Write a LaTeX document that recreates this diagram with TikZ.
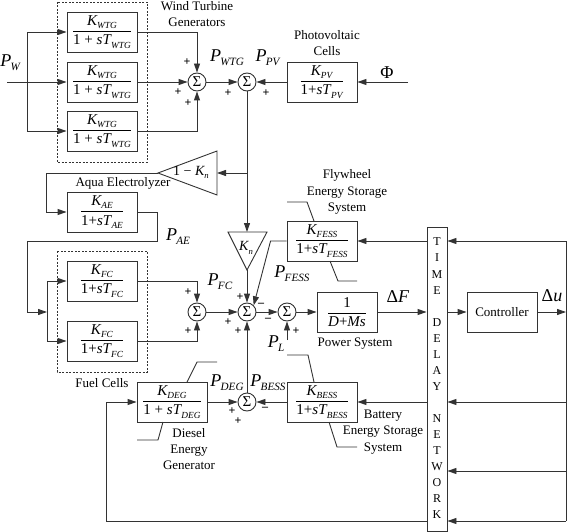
\documentclass[tikz,border=0pt]{standalone}
\usepackage{amsmath}
\usepackage{fontspec}
\setmainfont{Liberation Serif}
\usetikzlibrary{arrows.meta}

\newcommand\vsub[2]{\textit{#1}\kern-0.04em\raisebox{-0.5ex}{\scalebox{0.62}{\textit{#2}}}}
\newcommand\blkfr[2]{$\dfrac{\text{#1}}{\text{#2}}$}

\tikzset{
  blk/.style={draw, minimum width=70pt, minimum height=40pt, inner sep=0pt, font=\fontsize{15}{17}\selectfont},
  sumn/.style={draw, circle, minimum size=18pt, inner sep=0pt, font=\fontsize{15}{15}\selectfont},
  arr/.style={-{Triangle[length=9pt,width=6pt]}},
  sgn/.style={font=\fontsize{12}{12}\selectfont\bfseries, inner sep=0pt},
  txt/.style={font=\fontsize{13}{16.2}\selectfont, align=center, inner sep=0pt},
  sig/.style={font=\fontsize{18}{18}\selectfont, inner sep=0pt},
  grp/.style={line width=0.6pt, dash pattern=on 2pt off 1.5pt}
}

\begin{document}
\begin{tikzpicture}[x=1pt,y=-1pt,line width=0.9pt,draw=black!80]
\useasboundingbox (0,0) rectangle (567,532);

\draw[grp] (57,2) rectangle (147,162);
\draw[grp] (57,251) rectangle (147,372);

\node[blk] (wtga) at (102,32) {\blkfr{\vsub{K}{WTG}}{1 + \textit{s}\vsub{T}{WTG}}};
\node[blk] (wtgb) at (102,82) {\blkfr{\vsub{K}{WTG}}{1 + \textit{s}\vsub{T}{WTG}}};
\node[blk] (wtgc) at (102,131) {\blkfr{\vsub{K}{WTG}}{1 + \textit{s}\vsub{T}{WTG}}};
\node[sumn] (sumw) at (197,82) {Σ};
\node[sumn] (sumr) at (247,82) {Σ};
\node[blk] (pv) at (322,82) {\blkfr{\vsub{K}{PV}}{1+\textit{s}\vsub{T}{PV}}};
\node[blk] (ae) at (102,212) {\blkfr{\vsub{K}{AE}}{1+\textit{s}\vsub{T}{AE}}};
\node[blk] (fca) at (102,281) {\blkfr{\vsub{K}{FC}}{1+\textit{s}\vsub{T}{FC}}};
\node[blk] (fcb) at (102,341) {\blkfr{\vsub{K}{FC}}{1+\textit{s}\vsub{T}{FC}}};
\node[sumn] (sumf) at (197,312) {Σ};
\node[sumn] (sumc) at (247,312) {Σ};
\node[sumn] (suml) at (287,312) {Σ};
\node[blk, minimum width=60pt] (ps) at (347,312) {\blkfr{1}{\textit{D}+\textit{Ms}}};
\node[blk] (fess) at (322,241) {\blkfr{\vsub{K}{FESS}}{1+\textit{s}\vsub{T}{FESS}}};
\node[blk] (bess) at (322,402) {\blkfr{\vsub{K}{BESS}}{1+\textit{s}\vsub{T}{BESS}}};
\node[blk] (deg) at (172,402) {\blkfr{\vsub{K}{DEG}}{1 + \textit{s}\vsub{T}{DEG}}};
\node[sumn] (sumd) at (247,402) {Σ};
\node[draw, minimum width=20pt, minimum height=304pt, inner sep=0pt] (tdn) at (437,379) {};
\node[blk, font=\fontsize{13}{15}\selectfont] (ctrl) at (502,312) {Controller};

\draw (158,173) -- (217,151) -- (217,195) -- cycle;
\coordinate (gai) at (217,173);
\coordinate (gao) at (158,173);
\node[font=\fontsize{14}{14}\selectfont] at (191,172) {1 − \vsub{K}{n}};
\draw (228,232) -- (267,232) -- (247,270) -- cycle;
\coordinate (kni) at (247,232);
\coordinate (kno) at (247,270);
\node[font=\fontsize{14}{14}\selectfont] at (246,248) {\vsub{K}{n}};

\foreach \l [count=\i from 0] in {T,I,M,E,,D,E,L,A,Y,,N,E,T,W,O,R,K}
  \node[font=\fontsize{12}{12}\selectfont] at (437,{242+16.06*\i}) {\l};

\coordinate (pwin) at (7,82);
\coordinate (pws) at (27,82);
\coordinate (phin) at (408,82);
\coordinate (brk) at (247,173);
\coordinate (aeo) at (157,241);
\coordinate (fcs) at (47,312);
\coordinate (plin) at (287,340);
\coordinate (duo) at (566,312);
\foreach \y [count=\i] in {241,402,471,521}
  \coordinate (fb\i) at (566,\y);

\draw[arr] (pwin) -- (wtgb);
\draw[arr] (pws) |- (wtga);
\draw[arr] (pws) |- (wtgc);
\draw[arr] (wtga) -| (sumw);
\draw[arr] (wtgb) -- (sumw);
\draw[arr] (wtgc) -| (sumw);
\draw[arr] (sumw) -- (sumr);
\draw[arr] (phin) -- (pv);
\draw[arr] (pv) -- (sumr);
\draw[arr] (sumr) -- (kni);
\draw[arr] (brk) -- (gai);
\draw[arr] (gao) -| ([xshift=-20pt]ae.west) -- (ae);
\draw[arr] (ae) -| (aeo) -| ([xshift=-20pt]fcs) -- (fcs);
\draw[arr] (fcs) |- (fca);
\draw[arr] (fcs) |- (fcb);
\draw[arr] (fca) -| (sumf);
\draw[arr] (fcb) -| (sumf);
\draw[arr] (sumf) -- (sumc);
\draw[arr] (kno) -- (sumc);
\draw[arr] (fess.west) -- ++(-16,0) -- (sumc.45);
\draw[arr] (sumc) -- (suml);
\draw[arr] (plin) -- (suml);
\draw[arr] (suml) -- (ps);
\draw[arr] (ps) -- (ps -| tdn.west);
\draw[arr] (ctrl -| tdn.east) -- (ctrl);
\draw[arr] (ctrl) -- (duo);

\draw (fb1) -- (fb4);
\foreach \i in {1,...,4}
  \draw[arr] (fb\i) -- (fb\i -| tdn.east);
\draw[arr] (fb1 -| tdn.west) -- (fess);
\draw[arr] (fb2 -| tdn.west) -- (bess);
\draw[arr] (fb4 -| tdn.west) -| ([xshift=-30pt]deg.west) -- (deg);
\draw[arr] (deg) -- (sumd);
\draw[arr] (bess) -- (sumd);
\draw[arr] (sumd) -- (sumc);

\draw (287,202) -- (307,202) -- (314,221);
\draw (330,261) -- (338,281) -- (357,281);
\draw (287,355) -- (308,355) -- (314,382);
\draw (329,422) -- (337,447) -- (357,447);
\draw (187,382) -- (197,362) -- (217,362);
\draw (163,422) -- (158,440) -- (137,440);

\node[txt] at (197,14) {Wind Turbine\\Generators};
\node[txt] at (327,43) {Photovoltaic\\Cells};
\node[txt] at (123,183) {Aqua Electrolyzer};
\node[txt] at (102,383) {Fuel Cells};
\node[txt] at (347,192) {Flywheel\\Energy Storage\\System};
\node[txt] at (355,344) {Power System};
\node[txt] at (383,432) {Battery\\Energy Storage\\System};
\node[txt] at (189,449) {Diesel\\Energy\\Generator};

\node[sig, anchor=west] at (0,63) {\vsub{P}{W}};
\node[sig] at (387,73) {Φ};
\node[sig] at (227,58) {\vsub{P}{WTG}};
\node[sig] at (268,58) {\vsub{P}{PV}};
\node[sig] at (178,237) {\vsub{P}{AE}};
\node[sig] at (220,282) {\vsub{P}{FC}};
\node[sig] at (292,274) {\vsub{P}{FESS}};
\node[sig] at (276,344) {\vsub{P}{L}};
\node[sig] at (398,297) {Δ\textit{F}};
\node[sig] at (552,296) {Δ\textit{u}};
\node[sig] at (227,383) {\vsub{P}{DEG}};
\node[sig] at (268,383) {\vsub{P}{BESS}};

\foreach \where/\s in {{187,62}/+,{178,92}/+,{188,103}/+,{228,93}/+,{266,93}/+,{188,292}/+,{188,331}/+,{240,297}/+,{228,322}/+,{238,331}/+,{261,305}/--,{268,320}/--,{296,331}/+,{232,411}/+,{238,421}/+,{265,409}/--}
  \node[sgn] at (\where) {\s};

\end{tikzpicture}
\end{document}
